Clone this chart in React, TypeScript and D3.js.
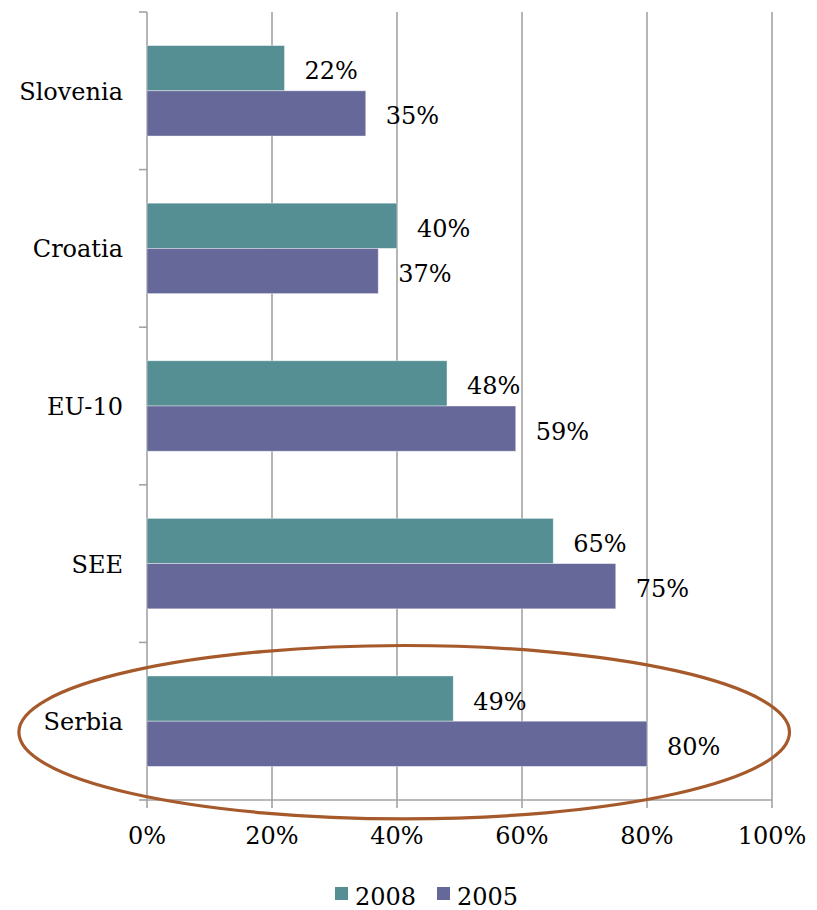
import React from "react";
import * as d3 from "d3";

const categories = ["Slovenia", "Croatia", "EU-10", "SEE", "Serbia"];
const seriesNames = ["2008", "2005"];
const values2008 = [22, 40, 48, 65, 49];
const values2005 = [35, 37, 59, 75, 80];
const xTicks = [0, 20, 40, 60, 80, 100];
const highlighted = "Serbia";

const W = 817;
const H = 910;
const colors = ["#558f94", "#666899"];
const FONT = "'DejaVu Serif', serif";
const FS = 24;

export default function App() {
  const x = d3.scaleLinear().domain([0, 100]).range([147, 772]);
  const y = d3.scaleBand<string>().domain(categories).range([12, 800]).padding(0);
  const step = y.step();
  const barH = step * 0.287;
  const groupTop = (c: string) => (y(c) as number) + step / 2 - barH;
  const series = [values2008, values2005];

  const sY = (y(highlighted) as number) + step / 2 + 11;
  const ellipse = {
    cx: (x(-20.5) + x(102.8)) / 2,
    cy: sY,
    rx: (x(102.8) - x(-20.5)) / 2,
    ry: step * 0.55,
  };

  const boundaries = d3.range(categories.length + 1).map((i) => 12 + i * step);

  return (
    <svg
      width={W}
      height={H}
      style={{ position: "absolute", left: 0, top: 0, background: "#fff" }}
      fontFamily={FONT}
    >
      {/* gridlines */}
      {xTicks.slice(1).map((t) => (
        <line key={t} x1={x(t)} x2={x(t)} y1={12} y2={808} stroke="#a3a3a3" strokeWidth={1.6} />
      ))}
      {/* y axis */}
      <line x1={x(0)} x2={x(0)} y1={12} y2={808} stroke="#a3a3a3" strokeWidth={1.6} />
      {boundaries.map((b, i) => (
        <line key={i} x1={139} x2={x(0)} y1={b} y2={b} stroke="#a3a3a3" strokeWidth={1.6} />
      ))}
      {/* x axis */}
      <line x1={x(0)} x2={x(100)} y1={800} y2={800} stroke="#a3a3a3" strokeWidth={1.6} />

      {/* bars */}
      {categories.map((c, i) =>
        series.map((s, si) => {
          const top = groupTop(c) + si * barH;
          return (
            <g key={c + si}>
              <rect
                x={x(0)}
                y={top}
                width={x(s[i]) - x(0)}
                height={barH}
                fill={colors[si]}
                stroke="#ffffff"
                strokeOpacity={0.5}
                strokeWidth={0.8}
              />
              <text
                x={x(s[i]) + 20}
                y={top + barH / 2 + 11}
                fontSize={FS}
                fill="#000"
              >
                {s[i]}%
              </text>
            </g>
          );
        })
      )}

      {/* category labels */}
      {categories.map((c) => (
        <text
          key={c}
          x={123}
          y={(y(c) as number) + step / 2 + 9}
          textAnchor="end"
          fontSize={FS}
          fill="#000"
        >
          {c}
        </text>
      ))}

      {/* x tick labels */}
      {xTicks.map((t) => (
        <text key={t} x={x(t)} y={844} textAnchor="middle" fontSize={FS} fill="#000">
          {t}%
        </text>
      ))}

      {/* highlight ellipse */}
      <ellipse
        cx={ellipse.cx}
        cy={ellipse.cy}
        rx={ellipse.rx}
        ry={ellipse.ry}
        fill="none"
        stroke="#a6592b"
        strokeWidth={3.2}
      />

      {/* legend */}
      {seriesNames.map((n, i) => (
        <g key={n} transform={`translate(${335 + i * 102}, 0)`}>
          <rect x={0} y={887} width={13} height={13} fill={colors[i]} />
          <text x={20} y={905} fontSize={FS} fill="#000">
            {n}
          </text>
        </g>
      ))}
    </svg>
  );
}
